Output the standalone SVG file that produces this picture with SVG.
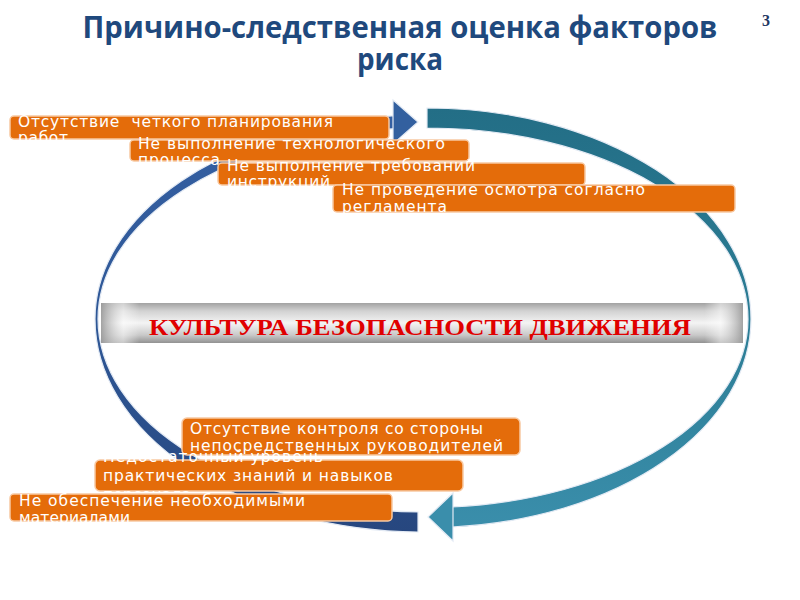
<svg xmlns="http://www.w3.org/2000/svg" width="800" height="600" viewBox="0 0 800 600">
<defs>
<style>
.title{font-family:"Open Sans","Liberation Sans",sans-serif;font-weight:bold;font-size:30px;fill:#1F497D}
.box{fill:#E46C0A;stroke:#F8C9A2;stroke-width:1.5}
.bt{font-family:"DejaVu Sans","Liberation Sans",sans-serif;font-size:15.5px;fill:#FFFFFF}
.arc{stroke:#E3EAF4;stroke-width:1.2}
</style>
<linearGradient id="gBlue" x1="0" y1="0" x2="0" y2="1">
<stop offset="0" stop-color="#3560A3"/>
<stop offset="0.5" stop-color="#2E5796"/>
<stop offset="1" stop-color="#27477F"/>
</linearGradient>
<linearGradient id="gTeal" x1="0" y1="0" x2="0" y2="1">
<stop offset="0" stop-color="#236E86"/>
<stop offset="0.5" stop-color="#2B7C94"/>
<stop offset="1" stop-color="#3A8EAB"/>
</linearGradient>
<linearGradient id="gBar" x1="0" y1="0" x2="0" y2="1">
<stop offset="0" stop-color="#A2A2A2"/>
<stop offset="0.2" stop-color="#D2D2D2"/>
<stop offset="0.5" stop-color="#F4F4F4"/>
<stop offset="0.8" stop-color="#C9C9C9"/>
<stop offset="1" stop-color="#929292"/>
</linearGradient>
<linearGradient id="gBarH" x1="0" y1="0" x2="1" y2="0">
<stop offset="0" stop-color="#9A9A9A" stop-opacity="0.9"/>
<stop offset="0.035" stop-color="#FFFFFF" stop-opacity="0.5"/>
<stop offset="0.06" stop-color="#FFFFFF" stop-opacity="0"/>
<stop offset="0.94" stop-color="#FFFFFF" stop-opacity="0"/>
<stop offset="0.965" stop-color="#FFFFFF" stop-opacity="0.5"/>
<stop offset="1" stop-color="#9A9A9A" stop-opacity="0.9"/>
</linearGradient>
</defs>
<rect x="0" y="0" width="800" height="600" fill="#FFFFFF"/>

<g id="title">
<text class="title" x="400" y="38" text-anchor="middle" textLength="635" lengthAdjust="spacingAndGlyphs">Причино-следственная оценка факторов</text>
<text class="title" x="400" y="70" text-anchor="middle" textLength="86" lengthAdjust="spacingAndGlyphs">риска</text>
</g>
<g id="page-number">
<text x="766" y="26" text-anchor="middle" font-family="Liberation Serif, serif" font-weight="bold" font-size="16" fill="#1F3864">3</text>
</g>

<g id="connectors">
<path class="arc" fill="url(#gBlue)" d="M 395 115.7 A 328 204 0 0 0 95 319 A 328 213 0 0 0 418 532 L 418 512 A 325 193 0 0 1 98 319 A 325 191 0 0 1 395 128.7 Z"/>
<polygon class="arc" fill="#33609F" points="393,100 418,122 393,144"/>
<path class="arc" fill="url(#gTeal)" d="M 427 108 A 324 211 0 0 1 751 319 A 324 208.6 0 0 1 452 527 L 452 507 A 321 188.6 0 0 0 748 319 A 321 191 0 0 0 427 128 Z"/>
<polygon class="arc" fill="#3A8EAB" points="453,493 428,517 453,541"/>
</g>

<g id="center">
<rect x="101" y="303" width="642" height="40" fill="url(#gBar)"/>
<rect x="101" y="303" width="642" height="40" fill="url(#gBarH)"/>
<text x="420" y="335" text-anchor="middle" font-family="Liberation Serif, serif" font-weight="bold" font-size="24" fill="#E00000" textLength="542" lengthAdjust="spacingAndGlyphs">КУЛЬТУРА БЕЗОПАСНОСТИ ДВИЖЕНИЯ</text>
</g>

<g id="factor1">
<rect class="box" x="10" y="116" width="379" height="23" rx="4"/>
<text class="bt" x="18" y="127" textLength="315" xml:space="preserve">Отсутствие  четкого планирования</text>
<text class="bt" x="18" y="143" textLength="50">работ</text>
</g>
<g id="factor2">
<rect class="box" x="130" y="140" width="339" height="21" rx="4"/>
<text class="bt" x="138" y="149" textLength="307">Не выполнение технологического</text>
<text class="bt" x="138" y="165" textLength="82">процесса</text>
</g>
<g id="factor3">
<rect class="box" x="218" y="163" width="367" height="22" rx="4"/>
<text class="bt" x="227" y="171" textLength="248">Не выполнение требований</text>
<text class="bt" x="227" y="187" textLength="103">инструкций</text>
</g>
<g id="factor4">
<rect class="box" x="333" y="185" width="402" height="27" rx="4"/>
<text class="bt" x="342" y="195" textLength="303">Не проведение осмотра согласно</text>
<text class="bt" x="342" y="212" textLength="105">регламента</text>
</g>
<g id="factor5">
<rect class="box" x="182" y="418" width="338" height="37" rx="5"/>
<text class="bt" x="190" y="434" textLength="293">Отсутствие контроля со стороны</text>
<text class="bt" x="190" y="451" textLength="313">непосредственных руководителей</text>
</g>
<g id="factor6">
<rect class="box" x="95" y="460" width="368" height="31" rx="5"/>
<text class="bt" x="103" y="462" textLength="220">Недостаточный уровень</text>
<text class="bt" x="103" y="481" textLength="290">практических знаний и навыков</text>
<text class="bt" x="103" y="500" textLength="88">персонала</text>
</g>
<g id="factor7">
<rect class="box" x="10" y="494" width="382" height="27" rx="4"/>
<text class="bt" x="19" y="506" textLength="286">Не обеспечение необходимыми</text>
<text class="bt" x="19" y="523" textLength="111">материалами</text>
</g>
</svg>
